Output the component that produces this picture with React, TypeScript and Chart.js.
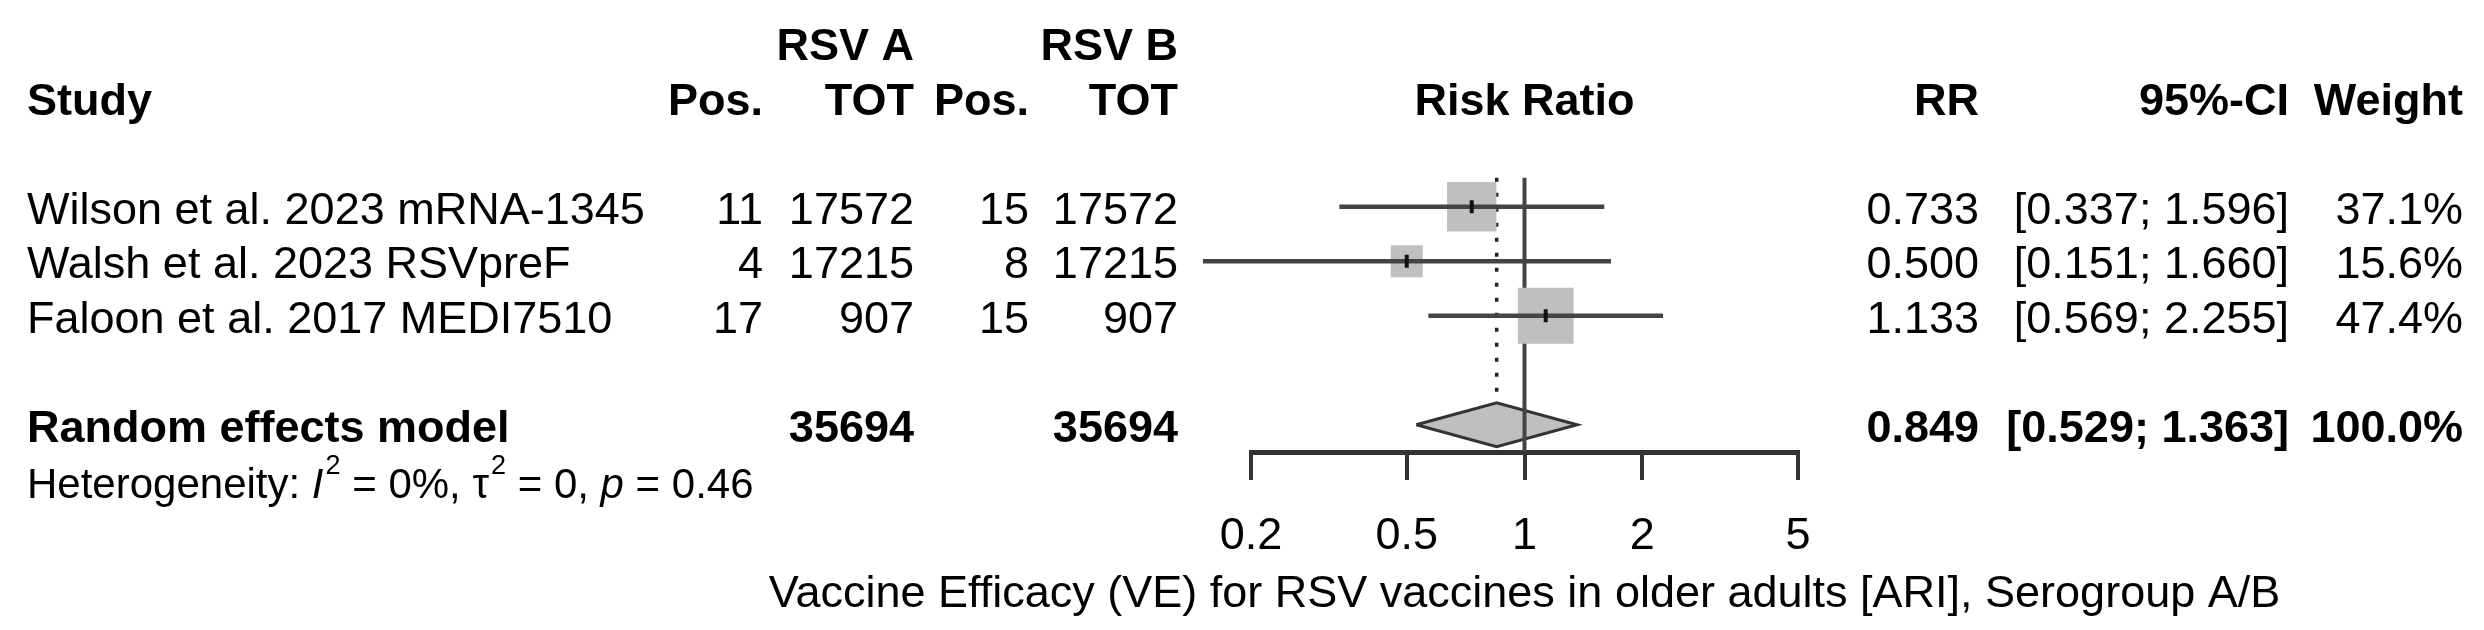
import React, { useEffect, useRef } from 'react';
import { Chart, registerables } from 'chart.js';

Chart.register(...registerables);

// ---------- data ----------
const studies = ['Wilson et al. 2023 mRNA-1345', 'Walsh et al. 2023 RSVpreF', 'Faloon et al. 2017 MEDI7510'];
const posA = [11, 4, 17];
const totA = [17572, 17215, 907];
const posB = [15, 8, 15];
const totB = [17572, 17215, 907];
const rr = [0.733, 0.5, 1.133];
const ciLow = [0.337, 0.151, 0.569];
const ciHigh = [1.596, 1.66, 2.255];
const weights = [37.1, 15.6, 47.4];
const studyRows = [0, 1, 2];

const pooledLabel = 'Random effects model';
const pooledTotals = [35694, 35694];
const pooledRR = 0.849;
const pooledLow = 0.529;
const pooledHigh = 1.363;
const pooledWeight = 100.0;
const pooledRow = 4;

const hetI2 = '0';
const hetTau2 = '0';
const hetP = '0.46';

const tickValues = [0.2, 0.5, 1, 2, 5];
const nullValue = 1;
const xLabel = 'Vaccine Efficacy (VE) for RSV vaccines in older adults [ARI], Serogroup A/B';

// ---------- style ----------
const FAMILY = '"Liberation Sans", Arial, Helvetica, sans-serif';
const FS = 45;
const SQUARE_K = 8.1;
const DIAMOND_H = 0.404;
const LINE_TOP = -0.53;

const textPlugin = {
  id: 'forestText',
  afterDraw(chart: any) {
    const ctx: CanvasRenderingContext2D = chart.ctx;
    const ys = chart.scales.y;
    const xs = chart.scales.x;
    const put = (t: string, px: number, row: number, align: CanvasTextAlign, bold = false, size = FS, dy = 17, style = '') => {
      ctx.font = `${style}${bold ? 'bold ' : ''}${size}px ${FAMILY}`;
      ctx.textAlign = align;
      ctx.textBaseline = 'alphabetic';
      ctx.fillStyle = '#000';
      ctx.fillText(t, px, ys.getPixelForValue(row) + dy);
    };
    ctx.save();
    const C = { study: 27, posA: 763, totA: 914, posB: 1029, totB: 1178, rr: 1979, ci: 2289, w: 2463 };
    // headers
    put('RSV A', C.totA, -3, 'right', true);
    put('RSV B', C.totB, -3, 'right', true);
    put('Study', C.study, -2, 'left', true);
    put('Pos.', C.posA, -2, 'right', true);
    put('TOT', C.totA, -2, 'right', true);
    put('Pos.', C.posB, -2, 'right', true);
    put('TOT', C.totB, -2, 'right', true);
    put('Risk Ratio', xs.getPixelForValue(nullValue), -2, 'center', true);
    put('RR', C.rr, -2, 'right', true);
    put('95%-CI', C.ci, -2, 'right', true);
    put('Weight', C.w, -2, 'right', true);
    // study rows
    studies.forEach((s, i) => {
      const r = studyRows[i];
      put(s, C.study, r, 'left');
      put(String(posA[i]), C.posA, r, 'right');
      put(String(totA[i]), C.totA, r, 'right');
      put(String(posB[i]), C.posB, r, 'right');
      put(String(totB[i]), C.totB, r, 'right');
      put(rr[i].toFixed(3), C.rr, r, 'right');
      put(`[${ciLow[i].toFixed(3)}; ${ciHigh[i].toFixed(3)}]`, C.ci, r, 'right');
      put(`${weights[i].toFixed(1)}%`, C.w, r, 'right');
    });
    // pooled row
    put(pooledLabel, C.study, pooledRow, 'left', true);
    put(String(pooledTotals[0]), C.totA, pooledRow, 'right', true);
    put(String(pooledTotals[1]), C.totB, pooledRow, 'right', true);
    put(pooledRR.toFixed(3), C.rr, pooledRow, 'right', true);
    put(`[${pooledLow.toFixed(3)}; ${pooledHigh.toFixed(3)}]`, C.ci, pooledRow, 'right', true);
    put(`${pooledWeight.toFixed(1)}%`, C.w, pooledRow, 'right', true);
    // heterogeneity
    const hs = 42;
    const base = ys.getPixelForValue(pooledRow + 1) + 18.5;
    const parts: { t: string; k: string }[] = [
      { t: 'Heterogeneity: ', k: 'n' },
      { t: 'I', k: 'i' },
      { t: '2', k: 's' },
      { t: ` = ${hetI2}%, `, k: 'n' },
      { t: 'τ', k: 'n' },
      { t: '2', k: 's' },
      { t: ` = ${hetTau2}, `, k: 'n' },
      { t: 'p', k: 'i' },
      { t: ` = ${hetP}`, k: 'n' },
    ];
    let x = C.study;
    ctx.textAlign = 'left';
    ctx.textBaseline = 'alphabetic';
    ctx.fillStyle = '#000';
    parts.forEach((p) => {
      if (p.k === 's') {
        ctx.font = `27px ${FAMILY}`;
        ctx.fillText(p.t, x + 2, base - 24);
        x += ctx.measureText(p.t).width + 2;
      } else {
        ctx.font = `${p.k === 'i' ? 'italic ' : ''}${hs}px ${FAMILY}`;
        ctx.fillText(p.t, x, base);
        x += ctx.measureText(p.t).width;
      }
    });
    // x axis label
    put(xLabel, (xs.left + xs.right) / 2, 7, 'center', false, FS, 18.5);
    ctx.restore();
  },
};

export default function App() {
  const ref = useRef<HTMLCanvasElement>(null);
  useEffect(() => {
    const pts = rr.map((v, i) => ({ x: v, y: studyRows[i] }));
    const chart = new Chart(ref.current as HTMLCanvasElement, {
      type: 'scatter',
      data: {
        datasets: [
          {
            type: 'scatter',
            data: pts,
            pointStyle: 'line',
            pointRotation: 90,
            pointRadius: 6.5,
            pointBorderWidth: 4,
            pointBorderColor: '#111',
            order: 0,
          } as any,
          {
            type: 'bar',
            indexAxis: 'y',
            data: studyRows.map((r, i) => ({ x: [ciLow[i], ciHigh[i]], y: r })),
            barThickness: 4,
            backgroundColor: '#444',
            borderWidth: 0,
            grouped: false,
            clip: false,
            order: 1,
          } as any,
          {
            type: 'scatter',
            data: pts,
            pointStyle: 'rect',
            pointRadius: weights.map((w) => (SQUARE_K * Math.sqrt(w)) / Math.SQRT2),
            pointBackgroundColor: '#bfbfbf',
            pointBorderWidth: 0,
            order: 2,
          } as any,
          {
            type: 'line',
            data: [
              { x: nullValue, y: LINE_TOP },
              { x: nullValue, y: pooledRow + 0.5 },
            ],
            borderColor: '#444',
            borderWidth: 4,
            pointRadius: 0,
            fill: false,
            order: 3,
          } as any,
          {
            type: 'line',
            data: [
              { x: pooledRR, y: LINE_TOP },
              { x: pooledRR, y: pooledRow - DIAMOND_H },
            ],
            borderColor: '#222',
            borderWidth: 3.5,
            borderDash: [4, 11],
            pointRadius: 0,
            fill: false,
            order: 3,
          } as any,
          {
            type: 'line',
            data: [
              { x: pooledLow, y: pooledRow },
              { x: pooledRR, y: pooledRow - DIAMOND_H },
              { x: pooledHigh, y: pooledRow },
              { x: pooledRR, y: pooledRow + DIAMOND_H },
              { x: pooledLow, y: pooledRow },
            ],
            borderColor: '#333',
            borderWidth: 3,
            backgroundColor: '#bfbfbf',
            fill: 'shape',
            tension: 0,
            pointRadius: 0,
            borderJoinStyle: 'miter',
            order: 4,
          } as any,
        ],
      },
      options: {
        responsive: false,
        animation: false,
        devicePixelRatio: 1,
        events: [],
        layout: { autoPadding: false, padding: { left: 1251, right: 686, top: 16, bottom: 36 } },
        plugins: { legend: { display: false }, tooltip: { enabled: false }, title: { display: false } },
        scales: {
          x: {
            type: 'logarithmic',
            position: 'bottom',
            min: 0.2,
            max: 5,
            offset: false,
            beginAtZero: false,
            afterBuildTicks: (scale: any) => {
              scale.ticks = tickValues.map((v) => ({ value: v }));
            },
            ticks: {
              autoSkip: false,
              maxRotation: 0,
              minRotation: 0,
              padding: 30,
              color: '#000',
              font: { family: FAMILY, size: FS },
              callback: (v: any) => String(v),
            },
            grid: { drawOnChartArea: false, drawTicks: true, tickLength: 28, color: '#333', lineWidth: 4, offset: false },
            border: { display: true, color: '#333', width: 5 },
          },
          y: {
            type: 'linear',
            display: false,
            reverse: true,
            min: -3.5,
            max: 4.5,
            offset: false,
            grid: { offset: false },
          },
        },
      } as any,
      plugins: [textPlugin],
    });
    return () => chart.destroy();
  }, []);
  return (
    <div style={{ position: 'fixed', left: 0, top: 0, width: 2484, height: 630, background: '#fff' }}>
      <canvas ref={ref} width={2484} height={630} style={{ width: 2484, height: 630, display: 'block' }} />
    </div>
  );
}
